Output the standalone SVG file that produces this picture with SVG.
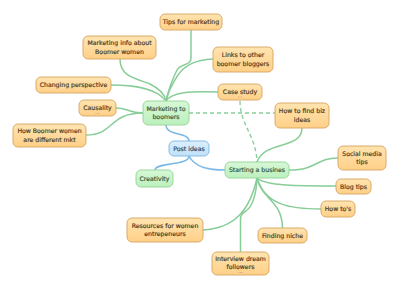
<svg xmlns="http://www.w3.org/2000/svg" width="400" height="289" viewBox="0 0 400 289">
<defs>
<linearGradient id="gO" x1="0" y1="0" x2="0" y2="1"><stop offset="0" stop-color="#ffe4b0"/><stop offset="1" stop-color="#ffd088"/></linearGradient>
<linearGradient id="gG" x1="0" y1="0" x2="0" y2="1"><stop offset="0" stop-color="#d6f8d6"/><stop offset="1" stop-color="#bdf0be"/></linearGradient>
<linearGradient id="gB" x1="0" y1="0" x2="0" y2="1"><stop offset="0" stop-color="#dbeffd"/><stop offset="1" stop-color="#c0e1f9"/></linearGradient>
<style>
.o{fill:url(#gO);stroke:#d6a461;stroke-width:0.9}
.g{fill:url(#gG);stroke:#92d494;stroke-width:0.9}
.b{fill:url(#gB);stroke:#7cb6e2;stroke-width:0.9}
text{font-family:"DejaVu Sans",Verdana,sans-serif;font-size:6.2px;text-anchor:middle;stroke-width:0.18}
.to{fill:#4e3a20;stroke:#4e3a20}
.tg{fill:#35553a;stroke:#35553a}
.tb{fill:#2e4a66;stroke:#2e4a66}
.c{fill:none;stroke:#88cd98;stroke-width:1.5;stroke-linecap:round}
.cb{fill:none;stroke:#7ab8e6;stroke-width:1.5;stroke-linecap:round}
.d{fill:none;stroke:#88cd98;stroke-width:1.3;stroke-dasharray:4 3}
.dots{stroke:#a89a80;stroke-width:0.8;stroke-dasharray:0.8 0.8}
</style>
</defs>
<rect width="400" height="289" fill="#ffffff"/>
<g id="connectors">
<path class="c" d="M191,30 L191,58 C191,66 181,63 177,70 C172,80 168,92 166,101"/>
<path class="c" d="M120,59 C120,76 134,78 150,84 C160,89 165,95 166,101"/>
<path class="c" d="M111,85 C135,85 156,88 166,101"/>
<path class="c" d="M213,59 C195,60 185,65 178,75 C172,84 168,92 166,101"/>
<path class="c" d="M218,92 C190,91 172,92 166,101"/>
<path class="c" d="M116,108 C128,108 128,113 143,113"/>
<path class="c" d="M86,135 C115,135 108,113 143,113"/>
<path class="cb" d="M166,125 C166,136 189,132 189,141"/>
<path class="cb" d="M189,156 C189,166 155,162 155,170"/>
<path class="cb" d="M189,156 C195,168 210,170 225,170"/>
<path class="d" d="M189,113 L275,113"/>
<path class="d" d="M240,101 C240,125 256,135 257,162"/>
<path class="c" d="M302,128 C302,150 265,140 257,162"/>
<path class="c" d="M289,170 C318,170 315,158 338,158"/>
<path class="c" d="M257,178 C265,186 300,186 336,186"/>
<path class="c" d="M257,178 C265,205 290,209 321,209"/>
<path class="c" d="M257,178 C262,200 282,200 282.5,228"/>
<path class="c" d="M257,178 C256,200 250,208 246,211 C241,214 240.5,216 240.5,220 L240.5,252"/>
<path class="c" d="M203,230 C235,228 250,210 257,178"/>
</g>
<g id="n-tips"><rect class="o" x="160" y="14" width="62" height="16" rx="5"/><text class="to" x="191" y="24.2">Tips for marketing</text></g>
<g id="n-info"><rect class="o" x="83" y="36" width="73" height="23" rx="5"/><text class="to" x="119.5" y="45.2">Marketing info about</text><text class="to" x="119.5" y="53.7">Boomer women</text></g>
<g id="n-changing"><rect class="o" x="36" y="77" width="75" height="16" rx="5"/><text class="to" x="73.5" y="87.2">Changing perspective</text></g>
<g id="n-causality"><rect class="o" x="79" y="100" width="37" height="16" rx="5"/><text class="to" x="97.5" y="109.8">Causality</text><line class="dots" x1="95.5" y1="113.3" x2="99.6" y2="113.3"/></g>
<g id="n-howboomer"><rect class="o" x="13" y="124" width="73" height="23" rx="5"/><text class="to" x="49.5" y="133.2">How Boomer women</text><text class="to" x="49.5" y="141.7">are different mkt</text></g>
<g id="n-marketing"><rect class="g" x="143" y="101" width="46" height="24" rx="5"/><text class="tg" x="166" y="110.7">Marketing to</text><text class="tg" x="166" y="119.2">boomers</text></g>
<g id="n-links"><rect class="o" x="213" y="47" width="60" height="25" rx="5"/><text class="to" x="243" y="57.2">Links to other</text><text class="to" x="243" y="65.7">boomer bloggers</text></g>
<g id="n-case"><rect class="o" x="218" y="84" width="44" height="16" rx="5"/><text class="to" x="240" y="93.5">Case study</text><line class="dots" x1="238" y1="97" x2="242.1" y2="97"/></g>
<g id="n-howfind"><rect class="o" x="275" y="103" width="54" height="25" rx="5"/><text class="to" x="302" y="113.2">How to find biz</text><text class="to" x="302" y="121.7">ideas</text></g>
<g id="n-post"><rect class="b" x="169" y="141" width="40" height="15" rx="5"/><text class="tb" x="189" y="150.7">Post ideas</text></g>
<g id="n-creativity"><rect class="g" x="136" y="170" width="37" height="17" rx="5"/><text class="tg" x="154.5" y="180.7">Creativity</text></g>
<g id="n-starting"><rect class="g" x="225" y="162" width="64" height="16" rx="5"/><text class="tg" x="257" y="172.2">Starting a busines</text></g>
<g id="n-social"><rect class="o" x="338" y="146" width="48" height="24" rx="5"/><text class="to" x="362" y="155.7">Social media</text><text class="to" x="362" y="164.2">tips</text></g>
<g id="n-blog"><rect class="o" x="336" y="179" width="35" height="15" rx="5"/><text class="to" x="353.5" y="188.7">Blog tips</text></g>
<g id="n-howtos"><rect class="o" x="321" y="201" width="34" height="16" rx="5"/><text class="to" x="338" y="211.2">How to's</text></g>
<g id="n-finding"><rect class="o" x="258" y="228" width="49" height="15" rx="5"/><text class="to" x="282.5" y="237.7">Finding niche</text></g>
<g id="n-interview"><rect class="o" x="212" y="252" width="57" height="23" rx="5"/><text class="to" x="240.5" y="260.5">Interview dream</text><text class="to" x="240.5" y="269">followers</text><line class="dots" x1="238.5" y1="272.5" x2="242.6" y2="272.5"/></g>
<g id="n-resources"><rect class="o" x="127" y="218" width="76" height="24" rx="5"/><text class="to" x="165" y="227.7">Resources for women</text><text class="to" x="165" y="236.2">entrepeneurs</text></g>
</svg>
